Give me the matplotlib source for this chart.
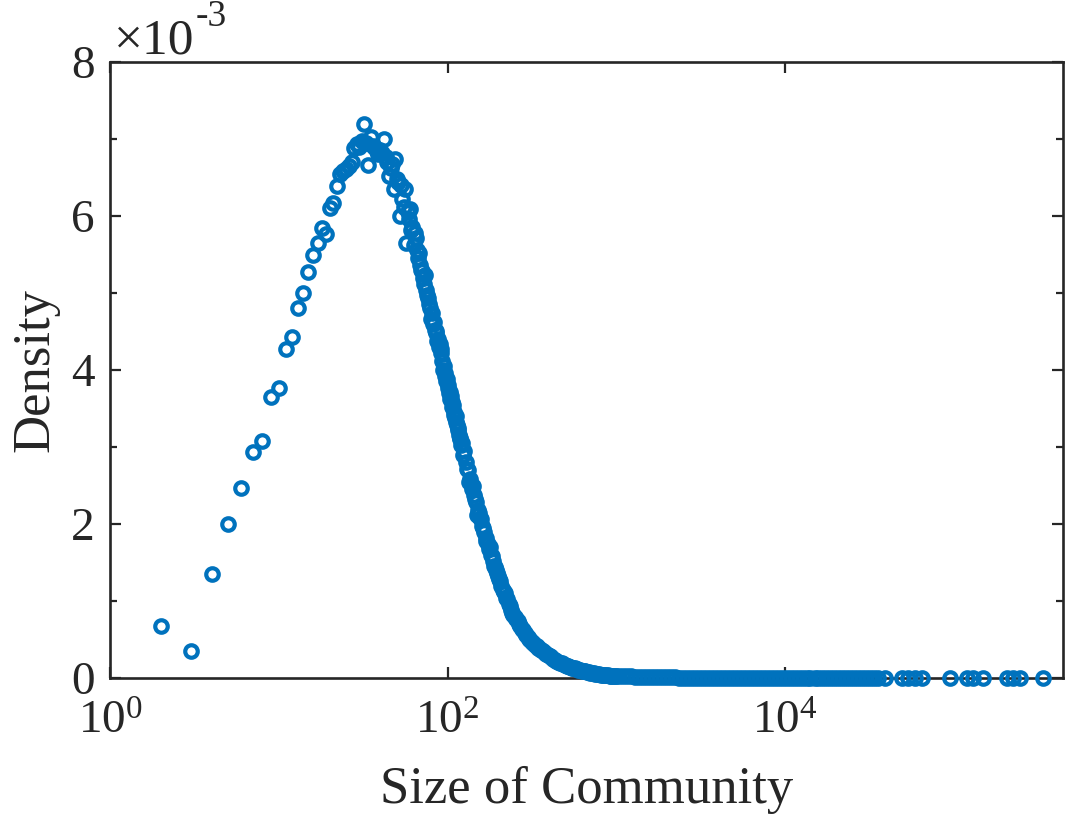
import matplotlib
matplotlib.use("Agg")
import matplotlib.pyplot as plt
from matplotlib.ticker import FixedLocator, FuncFormatter, NullLocator, LogFormatterSciNotation, MultipleLocator

# ---------------- data (density values in units of 1e-3) ----------------
size_head = [2, 3, 4, 5, 6, 7, 8, 9, 10, 11, 12, 13, 14, 15, 16, 17, 18, 19, 20,
             21, 22, 23, 24, 25, 26, 27, 28, 29, 30, 31, 32, 33, 34, 35, 36, 37, 38, 39, 40,
             41, 42, 43, 44, 45, 46, 47, 48, 49, 50, 51, 52, 53, 54, 55, 56, 57, 58, 59, 60]
dens_head = [0.67, 0.35, 1.35, 2.00, 2.47, 2.93, 3.08, 3.65, 3.77, 4.27, 4.43, 4.81, 5.00, 5.27, 5.50, 5.65, 5.85, 5.76, 6.11,
             6.17, 6.39, 6.54, 6.58, 6.61, 6.65, 6.70, 6.88, 6.93, 6.90, 6.98, 7.19, 6.95, 6.66, 7.02, 6.91, 6.88, 6.84, 6.80, 6.86,
             6.82, 7.00, 6.76, 6.70, 6.52, 6.62, 6.68, 6.35, 6.74, 6.48, 6.44, 6.00, 6.40, 6.22, 6.12, 6.35, 5.65, 6.05, 5.96, 6.09]

size_mid = [61, 62, 63, 64, 65, 66, 67, 68, 69, 70, 71, 72, 73, 74, 75, 76, 77, 78, 79, 80,
            81, 82, 83, 84, 85, 86, 87, 88, 89, 90, 91, 92, 93, 94, 95, 96, 97, 98, 99, 100,
            101, 102, 103, 104, 105, 106, 107, 108, 109, 110, 111, 112, 113, 114, 115, 116, 117, 118, 119, 120]
dens_mid = [5.82, 5.86, 5.62, 5.78, 5.72, 5.56, 5.46, 5.52, 5.36, 5.30, 5.28, 5.20, 5.12, 5.24, 5.04, 4.98, 4.94, 4.86, 4.80, 4.66,
            4.74, 4.60, 4.62, 4.52, 4.48, 4.50, 4.38, 4.40, 4.30, 4.34, 4.22, 4.27, 4.12, 4.00, 4.05, 3.96, 3.92, 3.86, 3.88, 3.80,
            3.76, 3.70, 3.72, 3.62, 3.66, 3.58, 3.52, 3.55, 3.45, 3.42, 3.38, 3.40, 3.32, 3.28, 3.22, 3.25, 3.15, 3.10, 3.12, 3.02]

size_decay = [122, 124, 126, 128, 130, 132, 134, 136, 138, 140, 142, 144, 146, 148, 150, 152, 154, 156, 158, 160,
              163, 165, 168, 170, 173, 175, 178, 180, 183, 185, 188, 190, 193, 196, 200, 202, 205, 208, 212, 215,
              218, 222, 226, 230, 234, 238, 242, 246, 250, 255, 260, 265, 270, 275, 280, 286, 292, 298, 304, 310,
              317, 323, 330, 337, 345, 352, 360, 368, 376, 385, 394, 403, 412, 422, 432, 442, 452, 463, 474, 485,
              496, 508, 520, 532, 545, 557, 570, 583, 597, 610, 625, 640, 655, 670, 685, 700, 718, 735, 752, 770,
              790, 810, 830, 850, 870, 890, 912, 935, 958, 980]
dens_decay = [3.05, 2.90, 2.95, 2.80, 2.72, 2.70, 2.55, 2.58, 2.52, 2.46, 2.50, 2.38, 2.32, 2.28, 2.12, 2.18, 2.14, 2.08, 2.06, 1.98,
              1.95, 1.90, 1.82, 1.78, 1.74, 1.68, 1.70, 1.60, 1.58, 1.52, 1.46, 1.44, 1.40, 1.36, 1.33, 1.28, 1.26, 1.20, 1.14, 1.12,
              1.10, 1.04, 1.02, 0.96, 0.94, 0.88, 0.84, 0.82, 0.79, 0.76, 0.74, 0.70, 0.68, 0.64, 0.62, 0.58, 0.56, 0.53, 0.51, 0.49,
              0.47, 0.45, 0.43, 0.41, 0.39, 0.38, 0.36, 0.35, 0.33, 0.31, 0.30, 0.28, 0.27, 0.25, 0.24, 0.22, 0.21, 0.20, 0.19, 0.18,
              0.17, 0.16, 0.15, 0.14, 0.135, 0.13, 0.125, 0.12, 0.11, 0.10, 0.095, 0.09, 0.085, 0.08, 0.075, 0.07, 0.065, 0.06, 0.055, 0.05,
              0.048, 0.045, 0.042, 0.04, 0.038, 0.035, 0.032, 0.03, 0.029, 0.028]

size_tail = [1000, 1040, 1100, 1160, 1220, 1290, 1360, 1440, 1520, 1600, 1690, 1790, 1890, 1990, 2100, 2220, 2350, 2480,
             2620, 2760, 2920, 3080, 3250, 3430, 3630, 3830, 4040, 4270, 4510, 4760, 5030, 5310, 5610, 5920, 6250,
             6600, 6970, 7360, 7780, 8210, 8670, 9160, 9670, 10210, 10780, 11390, 12030, 12700, 13410, 14160, 14960,
             15790, 16680, 17610, 18600, 19640, 20740, 21900, 23130, 24420, 25790, 27240, 28760, 30370, 32080, 33870, 35500]
dens_tail = [0.027, 0.026, 0.024, 0.022, 0.020, 0.018, 0.016, 0.015, 0.013, 0.012, 0.011, 0.010, 0.009, 0.008, 0.007, 0.0065, 0.006, 0.0055,
             0.005, 0.0045, 0.004, 0.0037, 0.0034, 0.0031, 0.0028, 0.0025, 0.0023, 0.0021, 0.0019, 0.0017, 0.0015, 0.0014, 0.0013, 0.0012, 0.0011,
             0.0010, 0.0009, 0.0008, 0.0007, 0.0006, 0.0006, 0.0005, 0.0005, 0.0004, 0.0004, 0.0003, 0.0003, 0.0003, 0.0002, 0.0002, 0.0002,
             0.0002, 0.0001, 0.0001, 0.0001, 0.0001, 0.0001, 0.0001, 0.0001, 0.0001, 0.0001, 0.0001, 0.0001, 0.0001, 0.0001, 0.0001, 0.0001]

size_sparse = [39100, 49100, 53500, 58900, 64500, 95000, 119000, 130000, 149000, 206000, 224000, 247000, 339000]
dens_sparse = [0.0001, 0.0001, 0.0001, 0.0001, 0.0001, 0.00005, 0.00005, 0.00005, 0.00005, 0.00005, 0.00005, 0.00005, 0.00005]

x_ticks = [1, 100, 10000]
x_tick_labels = [r'10$^{\mathregular{0}}$', r'10$^{\mathregular{2}}$', r'10$^{\mathregular{4}}$']
y_ticks = [0, 0.002, 0.004, 0.006, 0.008]

# ---------------- styling ----------------
plt.rcParams['font.family'] = ['Liberation Serif', 'DejaVu Serif']
plt.rcParams['mathtext.fontset'] = 'custom'
plt.rcParams['mathtext.rm'] = 'Liberation Serif'
plt.rcParams['mathtext.it'] = 'Liberation Serif:italic'
plt.rcParams['mathtext.bf'] = 'Liberation Serif:bold'

axcol = '#262626'
mcol = '#0072BD'
fs_tick = 34
fs_label = 38

fig = plt.figure(figsize=(10.65, 8.19), dpi=100)
ax = fig.add_axes([110 / 1065, 1 - 678 / 819, (1063 - 110) / 1065, (678 - 62) / 819])

sizes = size_head + size_mid + size_decay + size_tail + size_sparse
dens = [d * 1e-3 for d in dens_head + dens_mid + dens_decay + dens_tail + dens_sparse]

ax.plot(sizes, dens, linestyle='none', marker='o', markersize=9.0, markeredgewidth=3.0,
        markerfacecolor='none', markeredgecolor=mcol, clip_on=False, zorder=5)

ax.set_xscale('log')
ax.set_xlim(1, 4.44e5)
ax.set_ylim(0, 0.008)

ax.xaxis.set_major_locator(FixedLocator(x_ticks))
ax.xaxis.set_minor_locator(NullLocator())
ax.set_xticklabels(x_tick_labels)
ax.yaxis.set_major_locator(FixedLocator(y_ticks))
ax.yaxis.set_minor_locator(MultipleLocator(0.001))
ax.yaxis.set_major_formatter(FuncFormatter(lambda v, p: f"{v * 1e3:g}"))

for sp in ax.spines.values():
    sp.set_color(axcol)
    sp.set_linewidth(1.9)

ax.tick_params(which='both', direction='in', top=True, right=True, colors=axcol,
               labelcolor=axcol, labelsize=fs_tick, width=1.6)
ax.tick_params(which='major', length=8)
ax.tick_params(which='minor', length=5)
ax.tick_params(axis='x', pad=17)
ax.tick_params(axis='y', pad=11)

ax.set_xlabel('Size of Community', fontsize=fs_label, color=axcol, labelpad=16)
ax.set_ylabel('Density', fontsize=fs_label, color=axcol, labelpad=8)

ax.annotate('×10', xy=(0, 1), xycoords='axes fraction', xytext=(3, 6),
            textcoords='offset points', ha='left', va='baseline',
            fontsize=37, color=axcol)
ax.annotate('-3', xy=(0, 1), xycoords='axes fraction', xytext=(62, 26),
            textcoords='offset points', ha='left', va='baseline',
            fontsize=27, color=axcol)

fig.savefig('out.png', dpi=100)
